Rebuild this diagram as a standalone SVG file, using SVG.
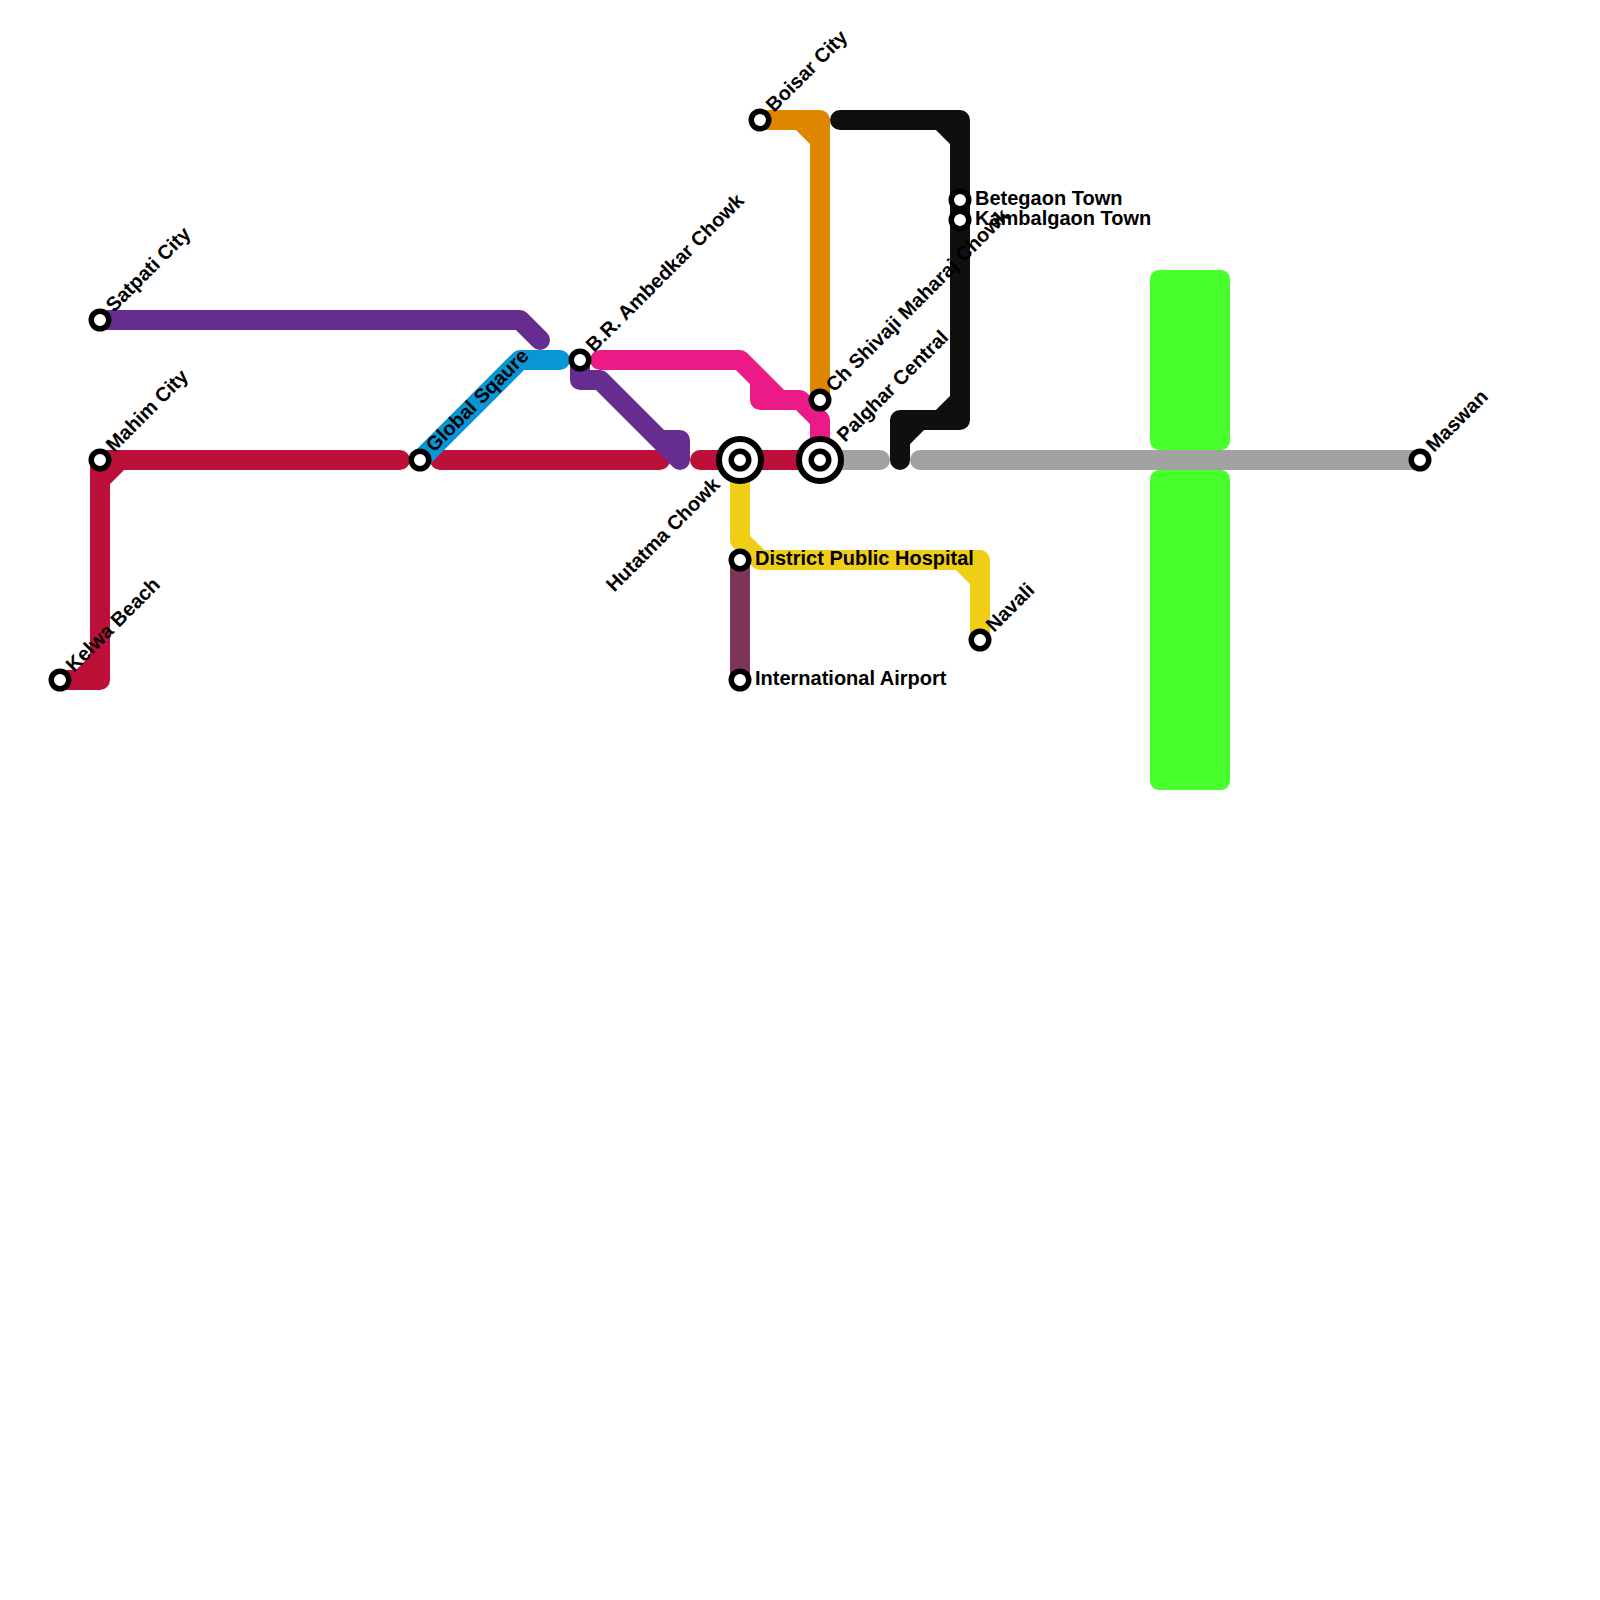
<svg xmlns="http://www.w3.org/2000/svg" width="1600" height="1600" viewBox="0 0 1600 1600">
<style>
.l{fill:none;stroke-width:20;stroke-linecap:round;stroke-linejoin:round}
.red{stroke:#bd1038}.pur{stroke:#662c90}.blu{stroke:#0896d7}.pin{stroke:#eb1a87}.ora{stroke:#df8600}.blk{stroke:#0f0f0f}.gry{stroke:#a2a2a2}.yel{stroke:#f0ce15}.plm{stroke:#7f3559}
.g{fill:#46ff2d}
.s{fill:#fff;stroke:#000;stroke-width:5.5}
.o{fill:#fff;stroke:#000;stroke-width:6}
text{font-family:"Liberation Sans",Arial,sans-serif;font-weight:700;font-size:20px;fill:#000}
</style>
<rect width="1600" height="1600" fill="#fff"/>
<g id="connectors">
<rect class="g" x="1150" y="270" width="80" height="180" rx="9"/>
<rect class="g" x="1150" y="470" width="80" height="320" rx="9"/>
<path class="l red" d="M60 680H100V460H400M80 680L100 660M100 480L120 460M440 460H660M700 460H820"/>
<path class="l pur" d="M100 320H520L540 340M580 360V380H600L680 460V440H660"/>
<path class="l blu" d="M420 460L520 360H560"/>
<path class="l pin" d="M600 360H740L780 400H800L820 420V460M760 380V400H780"/>
<path class="l ora" d="M760 120H820V400M800 120L820 140"/>
<path class="l blk" d="M840 120H960V420H900V460M940 120L960 140M940 420L960 400M900 440L920 420"/>
<path class="l gry" d="M820 460H880M920 460H1420"/>
<path class="l yel" d="M740 460V540L760 560H980V640M960 560L980 580"/>
<path class="l plm" d="M740 560V680"/>
</g>
<g id="kelwa-beach"><circle class="s" cx="60" cy="680" r="8.75"/><text transform="translate(74,673) rotate(-45)">Kelwa Beach</text></g>
<g id="mahim-city"><circle class="s" cx="100" cy="460" r="8.75"/><text transform="translate(114,453) rotate(-45)">Mahim City</text></g>
<g id="satpati-city"><circle class="s" cx="100" cy="320" r="8.75"/><text transform="translate(114,313) rotate(-45)">Satpati City</text></g>
<g id="global-sqaure"><circle class="s" cx="420" cy="460" r="8.75"/><text transform="translate(434,453) rotate(-45)">Global Sqaure</text></g>
<g id="br-ambedkar-chowk"><circle class="s" cx="580" cy="360" r="8.75"/><text transform="translate(594,353) rotate(-45)">B.R. Ambedkar Chowk</text></g>
<g id="hutatma-chowk"><circle class="o" cx="740" cy="460" r="21"/><circle class="s" cx="740" cy="460" r="8.75"/><text text-anchor="end" transform="translate(721,486) rotate(-45)">Hutatma Chowk</text></g>
<g id="palghar-central"><circle class="o" cx="820" cy="460" r="21"/><circle class="s" cx="820" cy="460" r="8.75"/><text transform="translate(845,443) rotate(-45)">Palghar Central</text></g>
<g id="ch-shivaji-maharaj-chowk"><circle class="s" cx="820" cy="400" r="8.75"/><text transform="translate(834,393) rotate(-45)">Ch Shivaji Maharaj Chowk</text></g>
<g id="boisar-city"><circle class="s" cx="760" cy="120" r="8.75"/><text transform="translate(774,113) rotate(-45)">Boisar City</text></g>
<g id="betegaon-town"><circle class="s" cx="960" cy="200" r="8.75"/><text x="975" y="205">Betegaon Town</text></g>
<g id="kambalgaon-town"><circle class="s" cx="960" cy="220" r="8.75"/><text x="975" y="225">Kambalgaon Town</text></g>
<g id="district-public-hospital"><circle class="s" cx="740" cy="560" r="8.75"/><text x="755" y="565">District Public Hospital</text></g>
<g id="international-airport"><circle class="s" cx="740" cy="680" r="8.75"/><text x="755" y="685">International Airport</text></g>
<g id="navali"><circle class="s" cx="980" cy="640" r="8.75"/><text transform="translate(994,633) rotate(-45)">Navali</text></g>
<g id="maswan"><circle class="s" cx="1420" cy="460" r="8.75"/><text transform="translate(1434,453) rotate(-45)">Maswan</text></g>
</svg>
